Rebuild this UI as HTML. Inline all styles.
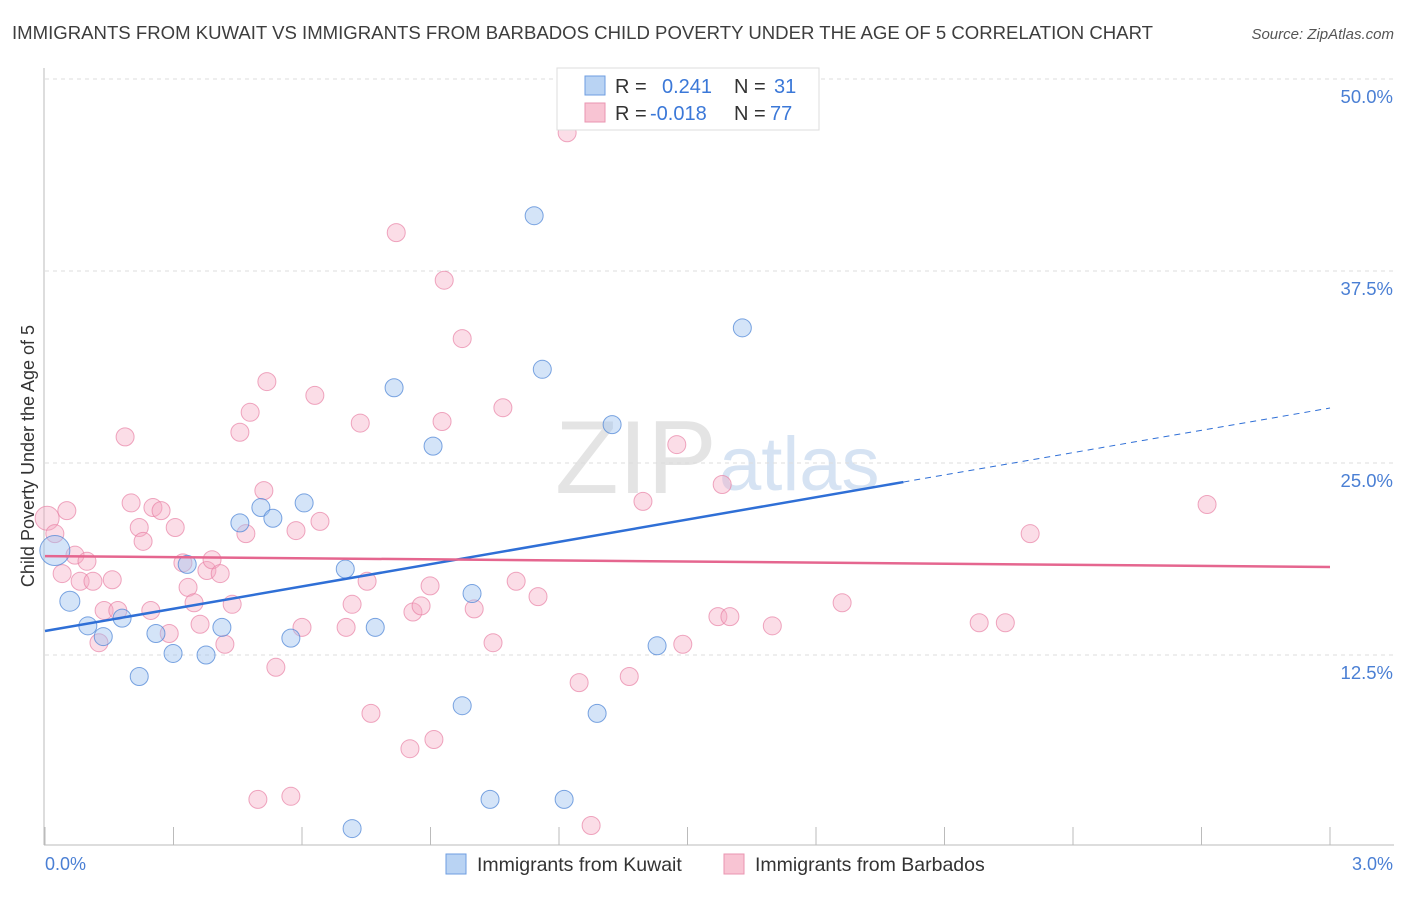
<!DOCTYPE html>
<html><head><meta charset="utf-8"><style>
body{margin:0;background:#fff;font-family:"Liberation Sans",sans-serif;}
svg text{font-family:"Liberation Sans",sans-serif;}
</style></head><body>
<svg id="c" width="1406" height="892">
<text x="12" y="39" font-size="18" fill="#3d3d3d" textLength="1141" lengthAdjust="spacingAndGlyphs">IMMIGRANTS FROM KUWAIT VS IMMIGRANTS FROM BARBADOS CHILD POVERTY UNDER THE AGE OF 5 CORRELATION CHART</text>
<text x="1394" y="39" font-size="15" fill="#555" text-anchor="end" font-style="italic">Source: ZipAtlas.com</text>
<text transform="translate(34,456) rotate(-90)" font-size="18" fill="#333" text-anchor="middle">Child Poverty Under the Age of 5</text>
<text x="555" y="493" font-size="104" fill="#e4e4e4" font-family="Liberation Serif">ZIP</text>
<text x="719" y="490" font-size="76" fill="#d6e3f3">atlas</text>
<g id="grid"></g><g id="pts"></g><g id="lines"></g>
<g>
<rect x="557" y="68" width="262" height="62" fill="#fff" stroke="#ddd"/>
<rect x="585" y="76" width="20" height="19" fill="#b9d3f3" stroke="#6e9ee0"/>
<rect x="585" y="103" width="20" height="19" fill="#f8c4d3" stroke="#ea95b0"/>
<text x="615" y="93" font-size="20" fill="#333">R =</text><text x="662" y="93" font-size="20" fill="#3b78d8">0.241</text>
<text x="734" y="93" font-size="20" fill="#333">N =</text><text x="774" y="93" font-size="20" fill="#3b78d8">31</text>
<text x="615" y="120" font-size="20" fill="#333">R =</text><text x="650" y="120" font-size="20" fill="#3b78d8">-0.018</text>
<text x="734" y="120" font-size="20" fill="#333">N =</text><text x="770" y="120" font-size="20" fill="#3b78d8">77</text>
</g>
<g>
<rect x="446" y="854" width="20" height="20" fill="#b9d3f3" stroke="#6e9ee0"/>
<text x="477" y="871" font-size="19.5" fill="#333">Immigrants from Kuwait</text>
<rect x="724" y="854" width="20" height="20" fill="#f8c4d3" stroke="#ea95b0"/>
<text x="755" y="871" font-size="19.5" fill="#333">Immigrants from Barbados</text>
</g>
<text x="45" y="870" font-size="18" fill="#4a7fd4">0.0%</text>
<text x="1393" y="870" font-size="18" fill="#4a7fd4" text-anchor="end">3.0%</text>
</svg>
<script>
const kuwaitX=[0.023,0.058,0.100,0.136,0.180,0.220,0.259,0.299,0.332,0.376,0.413,0.455,0.504,0.532,0.574,0.605,0.701,0.717,0.771,0.815,0.906,0.974,0.997,1.039,1.142,1.161,1.212,1.289,1.324,1.429,1.628];
const kuwaitY=[19.3,16.0,14.4,13.7,14.9,11.1,13.9,12.6,18.4,12.5,14.3,21.1,22.1,21.4,13.6,22.4,18.1,1.2,14.3,29.9,26.1,9.2,16.5,3.1,41.1,31.1,3.1,8.7,27.5,13.1,33.8];
const kuwaitR=[16,11,10,10,10,10,10,10,10,10,10,10,10,10,10,10,10,10,10,10,10,10,10,10,10,10,10,10,10,10,10];
const barbX=[0.005,0.023,0.051,0.040,0.070,0.098,0.082,0.112,0.157,0.138,0.170,0.126,0.187,0.201,0.220,0.229,0.247,0.252,0.271,0.290,0.304,0.322,0.334,0.348,0.362,0.378,0.390,0.409,0.420,0.437,0.455,0.469,0.479,0.511,0.518,0.539,0.497,0.574,0.586,0.600,0.630,0.642,0.703,0.717,0.736,0.752,0.761,0.820,0.852,0.859,0.878,0.899,0.908,0.927,0.932,0.974,1.002,1.046,1.069,1.100,1.151,1.219,1.247,1.275,1.364,1.396,1.475,1.489,1.571,1.581,1.599,1.698,1.861,2.181,2.242,2.300,2.713];
const barbY=[21.4,20.4,21.9,17.8,19.0,18.6,17.3,17.3,17.4,15.4,15.4,13.3,26.7,22.4,20.8,19.9,15.4,22.1,21.9,13.9,20.8,18.5,16.9,15.9,14.5,18.0,18.7,17.8,13.2,15.8,27.0,20.4,28.3,23.2,30.3,11.7,3.1,3.3,20.6,14.3,29.4,21.2,14.3,15.8,27.6,17.3,8.7,40.0,6.4,15.3,15.7,17.0,7.0,27.7,36.9,33.1,15.5,13.3,28.6,17.3,16.3,46.5,10.7,1.4,11.1,22.5,26.2,13.2,15.0,23.6,15.0,14.4,15.9,14.6,14.6,20.4,22.3];
const yTicks=[12.5,25.0,37.5,50.0];
const xTicks=[0,0.3,0.6,0.9,1.2,1.5,1.8,2.1,2.4,2.7,3.0];
const kuwaitTrend=[14.06,4.84]; // intercept, slope
const barbTrend=[18.94,-0.237];
const NS='http://www.w3.org/2000/svg';
const sx=v=>45+v/3*1285, sy=v=>847-v/12.5*192;
function mk(t,a,p){const e=document.createElementNS(NS,t);for(const k in a)e.setAttribute(k,a[k]);document.getElementById(p).appendChild(e);return e;}
yTicks.forEach(t=>{
 const l=mk('line',{x1:45,x2:1394,y1:sy(t),y2:sy(t),stroke:'#ddd','stroke-dasharray':'4,4'},'grid');
 
 
 const tx=mk('text',{x:1393,y:sy(t)+24,'font-size':18.5,fill:'#4a7fd4','text-anchor':'end'},'grid');tx.textContent=t.toFixed(1)+'%';
 
 
});
mk('line',{x1:44,x2:44,y1:68,y2:845,stroke:'#bbb'},'grid');
mk('line',{x1:44,x2:1394,y1:845,y2:845,stroke:'#bbb'},'grid');
xTicks.forEach(t=>{const l=mk('line',{x1:sx(t),x2:sx(t),y1:827,y2:845,stroke:'#bbb'},'grid');
 
 });
barbX.forEach((x,i)=>{const c=mk('circle',{cx:sx(x),cy:sy(barbY[i]),r:i==0?12:9,fill:'rgba(244,170,195,0.4)',stroke:'rgba(232,130,165,0.7)','stroke-width':1},'pts');
 
 });
kuwaitX.forEach((x,i)=>{const c=mk('circle',{cx:sx(x),cy:sy(kuwaitY[i]),r:kuwaitR[i]-1,fill:'rgba(160,195,240,0.45)',stroke:'rgba(80,135,215,0.75)','stroke-width':1},'pts');
 
 });
const kl=mk('line',{x1:sx(0),y1:sy(kuwaitTrend[0]),x2:sx(2.004),y2:sy(kuwaitTrend[0]+kuwaitTrend[1]*2.004),stroke:'#2f6fd6','stroke-width':2.5},'lines');


const kd=mk('line',{x1:sx(2.004),y1:sy(kuwaitTrend[0]+kuwaitTrend[1]*2.004),x2:sx(3),y2:sy(kuwaitTrend[0]+kuwaitTrend[1]*3),stroke:'#2f6fd6','stroke-width':1,'stroke-dasharray':'6,5'},'lines');


const bl=mk('line',{x1:sx(0),y1:sy(barbTrend[0]),x2:sx(3),y2:sy(barbTrend[0]+barbTrend[1]*3),stroke:'#e5668f','stroke-width':2.5},'lines');


</script>
</body></html>
